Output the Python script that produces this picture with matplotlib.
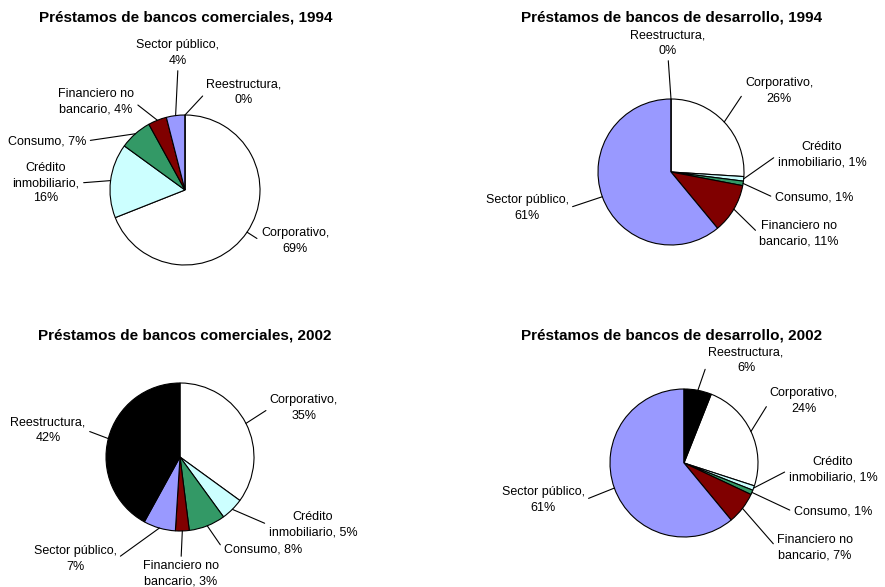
import numpy as np
import matplotlib
matplotlib.use("Agg")
import matplotlib.pyplot as plt

plt.rcParams['font.family'] = ['Liberation Sans', 'DejaVu Sans']

# categorías en el orden de las rebanadas (sentido horario)
categorias = ['Corporativo', 'Crédito inmobiliario', 'Consumo',
              'Financiero no bancario', 'Sector público', 'Reestructura']
colores = ['#FFFFFF', '#CCFFFF', '#339966', '#800000', '#9999FF', '#000000']

titulos = ['Préstamos de bancos comerciales, 1994',
           'Préstamos de bancos de desarrollo, 1994',
           'Préstamos de bancos comerciales, 2002',
           'Préstamos de bancos de desarrollo, 2002']

comerciales_1994 = [69, 16, 7, 4, 4, 0]
desarrollo_1994 = [26, 1, 1, 11, 61, 0]
comerciales_2002 = [35, 5, 8, 3, 7, 42]
desarrollo_2002 = [24, 1, 1, 7, 61, 6]
series = [comerciales_1994, desarrollo_1994, comerciales_2002, desarrollo_2002]

# forma de cada etiqueta (saltos de línea)
formatos = ['Corporativo,\n{}%', 'Crédito\ninmobiliario, {}%', 'Consumo, {}%',
            'Financiero no\nbancario, {}%', 'Sector público,\n{}%', 'Reestructura,\n{}%']

# --- layout (pixeles de la imagen, y hacia abajo) ---
W, H = 885, 587
centros = [(185, 190), (671, 172), (180, 457), (684, 463)]
radios = [75, 73, 74, 74]
angulos_inicio = [90, 90, 90, 90 - 21.6]
pos_titulos = [(186, 17), (672, 17), (185, 335), (672, 335)]
# posición del texto y punto de unión de la línea guía (l, r, t, b)
pos_etiquetas = [
    [(295, 241, 'l'), (46, 183, 'r'), (47, 141, 'r'), (96, 102, 'r'), (178, 53, 'b'), (244, 92, 'l')],
    [(779, 91, 'l'), (822, 155, 'l'), (814, 198, 'l'), (799, 234, 'l'), (527, 208, 'r'), (668, 43, 'b')],
    [(304, 408, 'l'), (313, 525, 'l'), (263, 550, 'l'), (181, 574, 't'), (75, 559, 'r'), (48, 430, 'r')],
    [(804, 401, 'l'), (833, 470, 'l'), (833, 512, 'l'), (815, 548, 'l'), (543, 500, 'r'), (746, 360, 'l')],
]
relpos = {'l': (0, 0.5), 'r': (1, 0.5), 't': (0.5, 1), 'b': (0.5, 0)}

fig = plt.figure(figsize=(W / 100, H / 100), dpi=100)
ax = fig.add_axes([0, 0, 1, 1])

for k, valores in enumerate(series):
    cx, cy = centros[k]
    r = radios[k]
    wedges, _ = ax.pie(valores, colors=colores, startangle=angulos_inicio[k],
                       counterclock=False, center=(cx, H - cy), radius=r,
                       wedgeprops=dict(edgecolor='black', linewidth=0.8))
    tx, ty = pos_titulos[k]
    ax.text(tx, H - ty, titulos[k], ha='center', va='center',
            fontsize=11, fontweight='bold')
    for i, w in enumerate(wedges):
        fmt = formatos[i]
        if k == 0 and i == 1:
            fmt = 'Crédito\ninmobiliario,\n{}%'
        texto = fmt.format(valores[i])
        ang = np.deg2rad((w.theta1 + w.theta2) / 2)
        px = w.center[0] + w.r * np.cos(ang)
        py = w.center[1] + w.r * np.sin(ang)
        lx, ly, lado = pos_etiquetas[k][i]
        ax.annotate(texto, xy=(px, py), xytext=(lx, H - ly), textcoords='data',
                    ha='center', va='center', fontsize=9, linespacing=1.35,
                    arrowprops=dict(arrowstyle='-', lw=0.8, color='black',
                                    relpos=relpos[lado], shrinkA=1, shrinkB=0))

ax.set_xlim(0, W)
ax.set_ylim(0, H)
ax.axis('off')

fig.savefig('out.png', dpi=100)
